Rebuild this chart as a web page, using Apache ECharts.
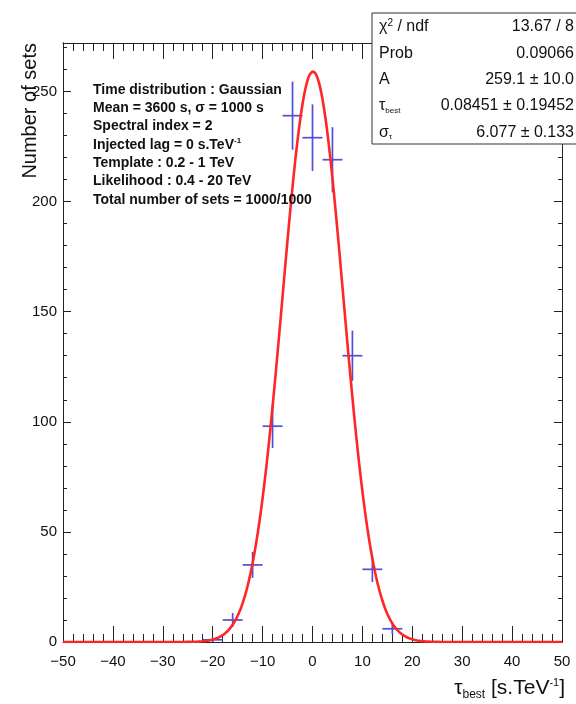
<!DOCTYPE html>
<html>
<head>
<meta charset="utf-8">
<script src="https://cdn.jsdelivr.net/npm/echarts@6/dist/echarts.min.js"></script>
<style>
  html, body { margin: 0; padding: 0; background: #ffffff; }
  #chart { width: 576px; height: 704px; }
</style>
</head>
<body>
<div id="chart"></div>
<script>
// Histogram of fitted lags: bin centres (s.TeV^-1) and number of sets per bin
const binCenters = [-20, -16, -12, -8, -4, 0, 4, 8, 12, 16];
const counts     = [1, 10, 35, 98, 239, 229, 219, 130, 33, 6];
const binWidth = 4;

// Gaussian fit result
const fitA     = 259.1;
const fitMean  = 0.08451;
const fitSigma = 6.077;

// Statistics box rows
const statLabels = ['{t|χ}{sup|2}{t| / ndf}', '{t|Prob}', '{t|A}', '{t|τ}{sub|best}', '{t|σ}{sub|τ}'];
const statValues = ['13.67 / 8', '0.09066', '259.1 ± 10.0', '0.08451 ± 0.19452', '6.077 ± 0.133'];

// Simulation settings text
const infoLines = [
  '{b|Time distribution : Gaussian}',
  '{b|Mean = 3600 s, σ = 1000 s}',
  '{b|Spectral index = 2}',
  '{b|Injected lag = 0 s.TeV}{sup|-1}',
  '{b|Template : 0.2 - 1 TeV}',
  '{b|Likelihood : 0.4 - 20 TeV}',
  '{b|Total number of sets = 1000/1000}'
];

// Axis settings
const xRange = [-50, 50];
const yRange = [0, 272];
const xMajor = 10, xMinorSplit = 5;
const yMajor = 50, yMinor = 10;

const FONT = 'Liberation Sans, Arial, Helvetica, sans-serif';
const AX = '#222222';

// fitted curve sampled along the full axis
const curve = [];
for (let x = xRange[0]; x <= xRange[1] + 1e-9; x += 0.25) {
  const z = (x - fitMean) / fitSigma;
  curve.push([x, fitA * Math.exp(-0.5 * z * z)]);
}

const points = binCenters.map((c, i) => [c, counts[i]]);

const chart = echarts.init(document.getElementById('chart'), null, { renderer: 'canvas' });

function xAxisDef(pos, labels) {
  return {
    type: 'value', position: pos, min: xRange[0], max: xRange[1], interval: xMajor,
    axisLine: { show: true, onZero: false, lineStyle: { color: AX, width: 1 } },
    axisTick: { show: true, inside: true, length: 16, lineStyle: { color: AX, width: 1 } },
    minorTick: { show: true, splitNumber: xMinorSplit, length: 8, lineStyle: { color: AX, width: 1 } },
    splitLine: { show: false },
    axisLabel: labels ? {
      show: true, margin: 12, fontSize: 15, fontFamily: FONT, color: '#111',
      formatter: v => String(v).replace('-', '\u2212')
    } : { show: false }
  };
}

function yAxisDef(pos, interval, tickLen, labels) {
  return {
    type: 'value', position: pos, min: yRange[0], max: yRange[1], interval: interval,
    axisLine: { show: true, onZero: false, lineStyle: { color: AX, width: 1 } },
    axisTick: { show: true, inside: true, length: tickLen, lineStyle: { color: AX, width: 1 } },
    splitLine: { show: false },
    axisLabel: labels ? {
      show: true, margin: 6, fontSize: 15, fontFamily: FONT, color: '#111',
      formatter: v => (v % yMajor === 0 ? String(v) : '')
    } : { show: false }
  };
}

const statGraphics = [];
const boxX = 372, boxY = 13, boxW = 215, boxH = 131, rowY0 = 27, rowStep = 26.3;
statGraphics.push({
  type: 'rect', z: 100,
  shape: { x: boxX, y: boxY, width: boxW, height: boxH },
  style: { fill: '#ffffff', stroke: '#333333', lineWidth: 1 }
});
statLabels.forEach((lab, i) => {
  statGraphics.push({
    type: 'text', z: 101, x: boxX + 7, y: rowY0 + i * rowStep,
    style: {
      text: lab, align: 'left', verticalAlign: 'middle',
      rich: {
        t: { fontSize: 16, fontFamily: FONT, fill: '#111' },
        sup: { fontSize: 10, fontFamily: FONT, fill: '#111', padding: [0, 0, 8, 0] },
        sub: { fontSize: 8, fontFamily: FONT, fill: '#111', padding: [9, 0, 0, 0] }
      }
    }
  });
  statGraphics.push({
    type: 'text', z: 101, x: 574, y: rowY0 + i * rowStep,
    style: {
      text: statValues[i], align: 'right', verticalAlign: 'middle',
      fontSize: 16, fontFamily: FONT, fill: '#111'
    }
  });
});

const infoGraphics = infoLines.map((line, i) => ({
  type: 'text', z: 90, x: 93, y: 90 + i * 18.3,
  style: {
    text: line, align: 'left', verticalAlign: 'middle',
    rich: {
      b: { fontSize: 14, fontWeight: 'bold', fontFamily: FONT, fill: '#111' },
      sup: { fontSize: 8, fontWeight: 'bold', fontFamily: FONT, fill: '#111', padding: [0, 0, 8, 0] }
    }
  }
}));

const titleGraphics = [
  {
    type: 'text', z: 90, x: 30, y: 43, rotation: Math.PI / 2,
    style: {
      text: 'Number of sets', align: 'right', verticalAlign: 'middle',
      fontSize: 20, fontFamily: FONT, fill: '#111'
    }
  },
  {
    type: 'text', z: 90, x: 565, y: 688,
    style: {
      text: '{t|τ}{sub|best}{t| [s.TeV}{sup|-1}{t|]}', align: 'right', verticalAlign: 'middle',
      rich: {
        t: { fontSize: 21, fontFamily: FONT, fill: '#111' },
        sub: { fontSize: 12, fontFamily: FONT, fill: '#111', padding: [14, 0, 0, 0] },
        sup: { fontSize: 11, fontFamily: FONT, fill: '#111', padding: [0, 0, 10, 0] }
      }
    }
  }
];

chart.setOption({
  animation: false,
  backgroundColor: '#ffffff',
  grid: { left: 63, right: 14, top: 43, bottom: 62, containLabel: false },
  xAxis: [xAxisDef('bottom', true), xAxisDef('top', false)],
  yAxis: [
    yAxisDef('left', yMajor, 8, true),
    yAxisDef('left', yMinor, 4, false),
    yAxisDef('right', yMajor, 8, false),
    yAxisDef('right', yMinor, 4, false)
  ],
  series: [
    {
      type: 'custom', name: 'counts', xAxisIndex: 0, yAxisIndex: 0, z: 3,
      data: points,
      renderItem: function (params, api) {
        const x = api.value(0), y = api.value(1), e = Math.sqrt(y);
        const l = api.coord([x - binWidth / 2, y]);
        const r = api.coord([x + binWidth / 2, y]);
        const t = api.coord([x, y + e]);
        const b = api.coord([x, Math.max(0, y - e)]);
        const st = { stroke: '#4f4fdc', lineWidth: 1.7 };
        return {
          type: 'group',
          children: [
            { type: 'line', shape: { x1: l[0], y1: l[1], x2: r[0], y2: r[1] }, style: st },
            { type: 'line', shape: { x1: t[0], y1: t[1], x2: b[0], y2: b[1] }, style: st }
          ]
        };
      }
    },
    {
      type: 'line', name: 'fit', xAxisIndex: 0, yAxisIndex: 0, z: 4,
      data: curve, showSymbol: false, symbol: 'none', smooth: false, clip: true,
      lineStyle: { color: '#ff2626', width: 2.6 }
    }
  ],
  graphic: [...infoGraphics, ...titleGraphics, ...statGraphics]
});
</script>
</body>
</html>
